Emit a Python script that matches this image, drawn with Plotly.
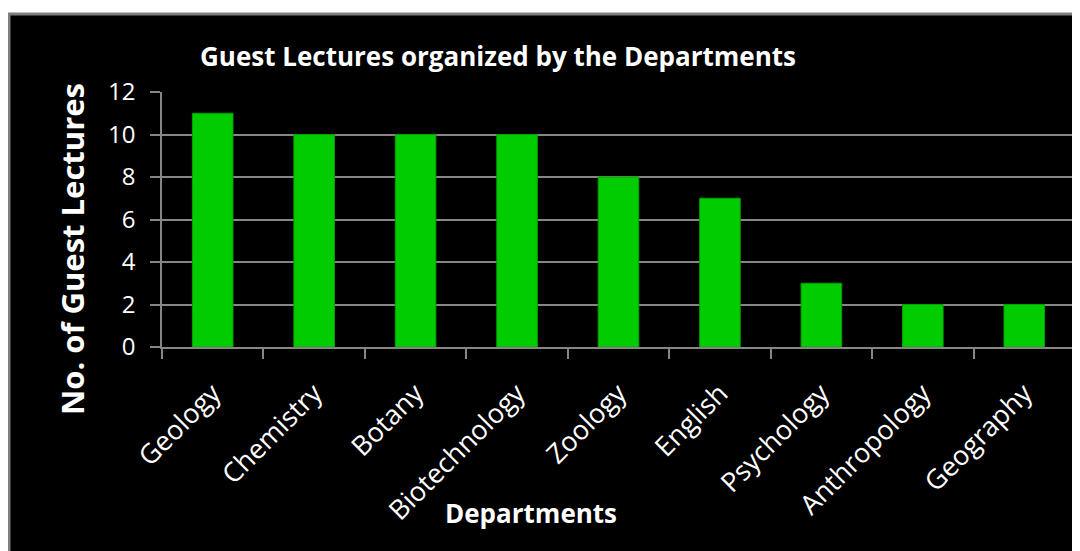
import plotly.graph_objects as go

departments = ["Geology", "Chemistry", "Botany", "Biotechnology", "Zoology",
               "English", "Psychology", "Anthropology", "Geography"]
lectures = [11, 10, 10, 10, 8, 7, 3, 2, 2]
y_ticks = [0, 2, 4, 6, 8, 10, 12]

OFF = 8  # page body margin
W, H = 1080, 551
L, T = 162 - OFF, 92 - OFF
R = W - (1075 - OFF)
B = H - (347 - OFF)
pw = W - L - R
ph = H - T - B

def px_x(x):
    return (x - OFF - L) / pw

def px_y(y):
    return (H - B - (y - OFF)) / ph

FONT = "Open Sans"
GRID = "#868686"

fig = go.Figure()
fig.add_trace(go.Bar(
    x=departments, y=lectures,
    marker=dict(color="#00CC00", line=dict(color="#00A000", width=1)),
    width=0.4,
))

fig.add_shape(type="rect", xref="paper", yref="paper",
              x0=px_x(9), x1=px_x(1100), y0=px_y(14), y1=px_y(580),
              fillcolor="black", line=dict(color="#7f7f7f", width=3), layer="below")

fig.update_layout(
    width=W, height=H,
    margin=dict(l=L, r=R, t=T, b=B),
    paper_bgcolor="white",
    plot_bgcolor="rgba(0,0,0,0)",
    showlegend=False,
    title=dict(text="<b>Guest Lectures organized by the Departments</b>",
               x=(498 - OFF) / W, xanchor="center", xref="container",
               y=1 - (57 - OFF) / H, yanchor="middle", yref="container",
               font=dict(family=FONT, size=26, color="white")),
    xaxis=dict(
        type="category", tickson="boundaries", showgrid=False,
        showline=True, linecolor=GRID, linewidth=1.5,
        ticks="outside", ticklen=10, tickcolor=GRID, tickwidth=1.5,
        ticklabelstandoff=18,
        tickangle=-45, tickfont=dict(family=FONT, size=27, color="white"),
    ),
    yaxis=dict(
        range=[0, 12], tickvals=y_ticks, showgrid=True, gridcolor=GRID, gridwidth=1.5,
        showline=True, linecolor=GRID, linewidth=1.5,
        ticks="outside", ticklen=10, tickcolor=GRID, tickwidth=1.5,
        ticklabelstandoff=10,
        tickfont=dict(family=FONT, size=24, color="white"), zeroline=False,
    ),
    annotations=[
        dict(text="<b>No. of Guest Lectures</b>", xref="paper", yref="paper",
             x=px_x(72), y=px_y(249), textangle=-90, showarrow=False,
             xanchor="center", yanchor="middle",
             font=dict(family=FONT, size=31, color="white")),
        dict(text="<b>Departments</b>", xref="paper", yref="paper",
             x=px_x(531), y=px_y(513), showarrow=False,
             xanchor="center", yanchor="middle",
             font=dict(family=FONT, size=26, color="white")),
    ],
)

fig.write_html("out.html")
